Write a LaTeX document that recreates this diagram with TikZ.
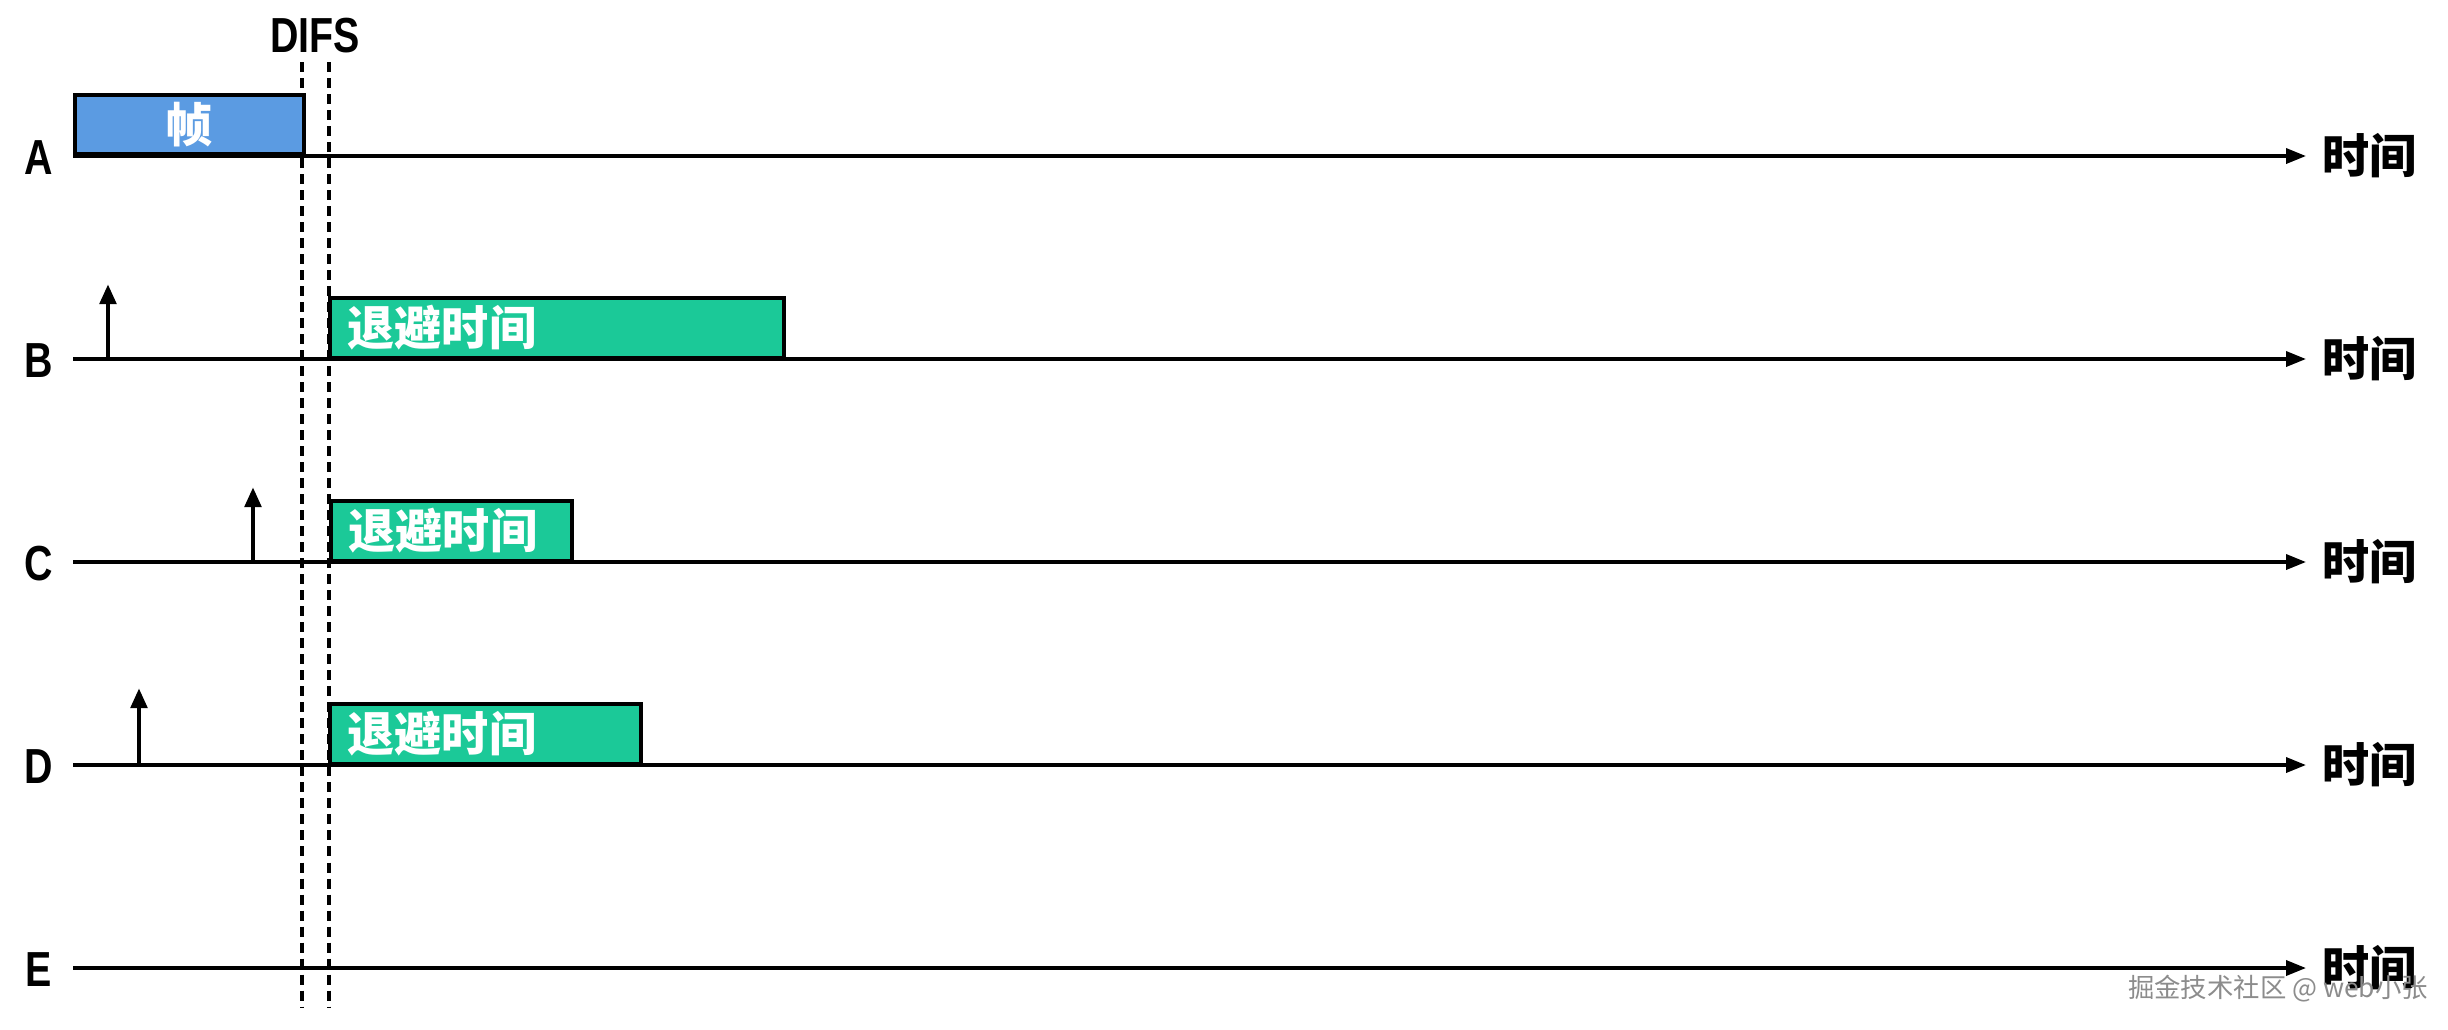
\documentclass[tikz,border=0pt]{standalone}
\usepackage{fontspec}
\setmainfont{Liberation Sans}
\newfontfamily\cjk{Noto Sans CJK SC}
\newfontfamily\narrowsans[FakeStretch=0.8]{Liberation Sans}
\usetikzlibrary{arrows.meta}
\definecolor{frameblue}{RGB}{91,155,226}
\definecolor{backoffgreen}{RGB}{27,201,152}
\begin{document}
\begin{tikzpicture}[x=0.01cm,y=-0.01cm,
  timeline/.style={line width=1pt,-{Triangle[length=0.2cm,width=0.15cm]}},
  sense/.style={line width=1.4pt,-{Triangle[length=0.2cm,width=0.16cm]}},
  difs/.style={line width=1pt,dash pattern=on 0.1cm off 0.06cm},
  lbl/.style={font=\narrowsans\bfseries\fontsize{14}{16}\selectfont,inner sep=0pt},
  timelbl/.style={font=\cjk\bfseries\fontsize{13.4}{15}\selectfont,anchor=west,inner sep=0pt},
  framebox/.style={draw=black,line width=1pt,fill=frameblue,anchor=south west,inner sep=0pt,
    minimum height=0.59cm,text=white,font=\cjk\bfseries\fontsize{13.4}{15}\selectfont},
  backoff/.style={draw=black,line width=1pt,fill=backoffgreen,anchor=south west,inner sep=0pt,
    minimum height=0.59cm},
  boxtext/.style={text=white,font=\cjk\bfseries\fontsize{13.4}{15}\selectfont,anchor=west,inner sep=0pt}]
\useasboundingbox (0,0) rectangle (2448,1029);

% DIFS
\node[lbl] (difs) at (315,36) {DIFS};
\coordinate (d1t) at (302,62); \coordinate (d1b) at (302,1007);
\coordinate (d2t) at (329,62); \coordinate (d2b) at (329,1007);
\draw[difs] (d1t) -- (d1b);
\draw[difs] (d2t) -- (d2b);

% row labels
\node[lbl] (lA) at (39,158) {A};
\node[lbl] (lB) at (39,361) {B};
\node[lbl] (lC) at (39,564) {C};
\node[lbl] (lD) at (39,767) {D};
\node[lbl] (lE) at (39,970) {E};

% timelines
\foreach \r/\y in {A/156,B/359,C/562,D/765,E/968}{
  \coordinate (s\r) at (73,\y);
  \coordinate (e\r) at (2306,\y);
  \draw[timeline] (s\r) -- (e\r);
  \node[timelbl] (t\r) at (2322,\y) {时间};
}

% frame on A
\node[framebox,minimum width=2.29cm] (frame) at (sA) {帧};

% backoff boxes
\node[backoff,minimum width=4.54cm] (bB) at (328,359) {};
\node[boxtext] (xB) at ([xshift=0.19cm]bB.west) {退避时间};
\node[backoff,minimum width=2.41cm] (bC) at (329,562) {};
\node[boxtext] (xC) at ([xshift=0.19cm]bC.west) {退避时间};
\node[backoff,minimum width=3.11cm] (bD) at (328,765) {};
\node[boxtext] (xD) at ([xshift=0.19cm]bD.west) {退避时间};

% carrier-sense arrivals
\coordinate (aB0) at (108,359); \coordinate (aB1) at (108,284);
\coordinate (aC0) at (253,562); \coordinate (aC1) at (253,487);
\coordinate (aD0) at (139,765); \coordinate (aD1) at (139,688);
\draw[sense] (aB0) -- (aB1);
\draw[sense] (aC0) -- (aC1);
\draw[sense] (aD0) -- (aD1);

% watermark
\node[text=black!45,font=\cjk\fontsize{7.5}{9}\selectfont,inner sep=0pt] (wm) at (2278,989) {掘金技术社区 @ web小张};
\end{tikzpicture}
\end{document}
